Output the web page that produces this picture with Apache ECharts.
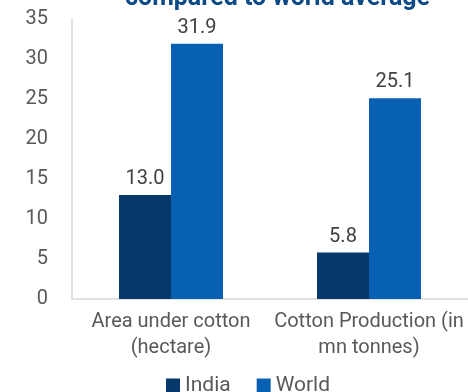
<!DOCTYPE html>
<html>
<head>
<meta charset="utf-8">
<script src="https://cdn.jsdelivr.net/npm/echarts@6/dist/echarts.min.js"></script>
<style>
  html, body { margin: 0; padding: 0; background: #fff; }
  #chart { width: 468px; height: 392px; }
</style>
</head>
<body>
<div id="chart"></div>
<script>
// Cotton: India vs world
const categories = ['Area under cotton\n(hectare)', 'Cotton Production (in\nmn tonnes)'];
const indiaValues = [13.0, 5.8];
const worldValues = [31.9, 25.1];
const seriesNames = ['India', 'World'];
const titleText = 'compared to world average';

const chart = echarts.init(document.getElementById('chart'));
const font = 'Roboto, "Liberation Sans", sans-serif';

const labelStyle = {
  show: true,
  position: 'top',
  distance: 6,
  color: '#404040',
  fontSize: 20,
  fontFamily: font,
  formatter: p => p.value.toFixed(1)
};

chart.setOption({
  animation: false,
  title: {
    text: titleText,
    left: 120,
    top: -19,
    textStyle: { color: '#0b4a86', fontSize: 25, fontWeight: 'bold', fontFamily: font }
  },
  legend: {
    data: seriesNames,
    bottom: -4,
    left: 166,
    padding: 0,
    icon: 'rect',
    itemWidth: 14,
    itemHeight: 14,
    itemGap: 26,
    textStyle: { color: '#595959', fontSize: 21, fontFamily: font }
  },
  grid: { left: 72, right: 0, top: 19, bottom: 93 },
  xAxis: {
    type: 'category',
    data: categories,
    axisLine: { lineStyle: { color: '#d9d9d9', width: 1.5 } },
    axisTick: { show: false },
    axisLabel: {
      interval: 0,
      hideOverlap: false,
      color: '#595959',
      fontSize: 20,
      fontFamily: font,
      lineHeight: 26,
      margin: 10
    }
  },
  yAxis: {
    type: 'value',
    min: 0,
    max: 35,
    interval: 5,
    axisLine: { show: true, lineStyle: { color: '#d9d9d9', width: 1.5 } },
    axisTick: { show: false },
    splitLine: { show: false },
    axisLabel: { color: '#595959', fontSize: 20, fontFamily: font, margin: 24 }
  },
  series: [
    {
      name: seriesNames[0],
      type: 'bar',
      data: indiaValues,
      barWidth: 52,
      barGap: '0%',
      itemStyle: { color: '#06386b' },
      label: labelStyle
    },
    {
      name: seriesNames[1],
      type: 'bar',
      data: worldValues,
      barWidth: 52,
      itemStyle: { color: '#0760b2' },
      label: labelStyle
    }
  ]
});
</script>
</body>
</html>
